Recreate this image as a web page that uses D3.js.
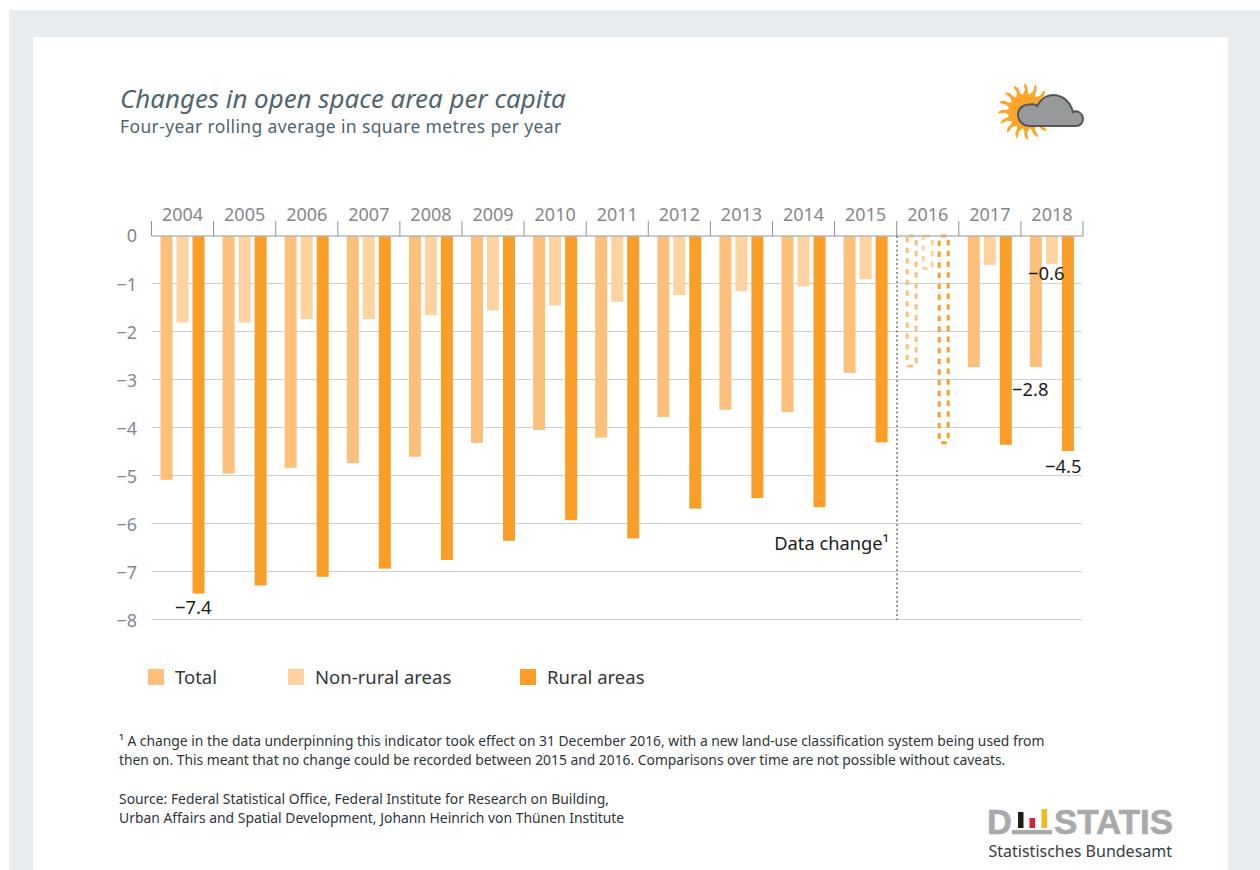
<!DOCTYPE html>
<html><head><meta charset="utf-8">
<script src="https://cdn.jsdelivr.net/npm/d3@7"></script>
<style>html,body{margin:0;padding:0;background:#fff;overflow:hidden}svg{display:block}text{font-family:"Noto Sans",sans-serif}</style>
</head><body><svg id="c" width="1260" height="870"></svg>
<script>
const years=["2004","2005","2006","2007","2008","2009","2010","2011","2012","2013","2014","2015","2016","2017","2018"];
const seriesKeys=["Total","Non-rural areas","Rural areas"];
const total=[-5.08,-4.95,-4.83,-4.73,-4.6,-4.31,-4.04,-4.2,-3.77,-3.62,-3.67,-2.85,-2.73,-2.73,-2.73];
const nonRural=[-1.8,-1.8,-1.73,-1.73,-1.65,-1.55,-1.45,-1.37,-1.23,-1.15,-1.05,-0.9,-0.7,-0.6,-0.58];
const rural=[-7.45,-7.28,-7.1,-6.93,-6.75,-6.35,-5.92,-6.3,-5.68,-5.46,-5.65,-4.3,-4.33,-4.35,-4.48];
const seriesVals=[total,nonRural,rural];
const colors=["#fdc07a","#fed3a0","#fb9e28"];
const dashedYear="2016";
const yTicks=[0,-1,-2,-3,-4,-5,-6,-7,-8];
const valueLabels=[["−7.4",175,614],["−0.6",1028,280],["−2.8",1012,396],["−4.5",1045,473]];

const svg=d3.select("#c");
svg.append("rect").attr("x",9).attr("y",10).attr("width",1251).attr("height",860).attr("fill","#e8ecef");
svg.append("rect").attr("x",33).attr("y",37).attr("width",1195).attr("height",840).attr("fill","#fff");

const x=d3.scaleBand().domain(years).range([151.5,1083]);
const inner=d3.scaleBand().domain(seriesKeys).range([9,53]).paddingInner(0.25).paddingOuter(0);
const y=d3.scaleLinear().domain([0,-8]).range([236,620]);
const gray="#85888c", gridc="#cfd0d2", titleC="#52646d";

// title
svg.append("text").attr("x",120).attr("y",108).attr("font-size",25.9).attr("font-style","italic").attr("fill",titleC).text("Changes in open space area per capita");
svg.append("text").attr("x",120).attr("y",133).attr("font-size",17.5).attr("letter-spacing",0.37).attr("fill",titleC).text("Four-year rolling average in square metres per year");

// grid
svg.append("g").selectAll("line").data(yTicks.slice(1)).join("line")
 .attr("x1",151.5).attr("x2",1082).attr("y1",d=>y(d)-.5).attr("y2",d=>y(d)-.5).attr("stroke",gridc).attr("stroke-width",1);

// y labels
svg.append("g").selectAll("text").data(yTicks).join("text")
 .attr("x",137).attr("y",d=>y(d)+(d===0?5.5:6.5)).attr("text-anchor","end").attr("font-size",18).attr("fill",gray)
 .text(d=>d===0?"0":"−"+Math.abs(d));

// bars
seriesKeys.forEach((k,si)=>{
 const g=svg.append("g");
 years.forEach((yr,i)=>{
  const v=seriesVals[si][i], px=x(yr)+inner(k), w=inner.bandwidth();
  if(yr===dashedYear){
   g.append("rect").attr("x",px+1.5).attr("y",y(0)).attr("width",w-3).attr("height",y(v)-y(0)-1).attr("fill","none")
    .attr("stroke",colors[si]).attr("stroke-width",3).attr("stroke-dasharray","5.5 5.2").attr("rx",1.5);
  } else {
   g.append("rect").attr("x",px).attr("y",y(0)).attr("width",w).attr("height",y(v)-y(0)).attr("fill",colors[si]);
  }
 });
});

// top axis
svg.append("line").attr("x1",151.5).attr("x2",1083).attr("y1",236).attr("y2",236).attr("stroke","#b5b7b9").attr("stroke-width",1.6);
svg.append("g").selectAll("line").data(years.concat(["end"])).join("line")
 .attr("x1",d=>d==="end"?1083:x(d)).attr("x2",d=>d==="end"?1083:x(d)).attr("y1",221).attr("y2",236).attr("stroke","#8f9295").attr("stroke-width",1);
svg.append("g").selectAll("text").data(years).join("text")
 .attr("x",d=>x(d)+x.bandwidth()/2).attr("y",221).attr("text-anchor","middle").attr("font-size",18).attr("fill",gray).text(d=>d);

// data change
svg.append("line").attr("x1",897).attr("x2",897).attr("y1",236).attr("y2",620).attr("stroke","#6b6e72").attr("stroke-width",1.4).attr("stroke-dasharray","2 2.5");
svg.append("text").attr("x",889).attr("y",550).attr("text-anchor","end").attr("font-size",18.3).attr("fill","#1d1d1b").text("Data change¹");

// value labels
svg.append("g").selectAll("text").data(valueLabels).join("text")
 .attr("x",d=>d[1]).attr("y",d=>d[2]).attr("font-size",18.4).attr("fill","#1d1d1b").text(d=>d[0]);

// legend
const legendX=[148,288,520];
seriesKeys.forEach((k,i)=>{
 svg.append("rect").attr("x",legendX[i]).attr("y",669).attr("width",16).attr("height",16).attr("fill",colors[i]);
 svg.append("text").attr("x",legendX[i]+27).attr("y",684).attr("font-size",18.5).attr("fill","#33383c").text(k);
});

// notes
const notes=[["¹ A change in the data underpinning this indicator took effect on 31 December 2016, with a new land-use classification system being used from",746,13.83],
["then on. This meant that no change could be recorded between 2015 and 2016. Comparisons over time are not possible without caveats.",765,13.83],
["Source: Federal Statistical Office, Federal Institute for Research on Building,",804,13.9],
["Urban Affairs and Spatial Development, Johann Heinrich von Thünen Institute",823,13.9]];
svg.append("g").selectAll("text").data(notes).join("text").attr("x",119).attr("y",d=>d[1]).attr("font-size",d=>d[2]).attr("fill","#2f3438").text(d=>d[0]);

// sun icon
const sun=svg.append("g").attr("transform","translate(1026,111.5)");
sun.append("circle").attr("r",17).attr("fill","#fba52a");
d3.range(16).forEach(i=>{
 sun.append("path").attr("transform",`rotate(${i*22.5})`)
  .attr("d","M-3.5,-15 C-3.5,-19 -1,-19.5 -1.2,-22 C-1.4,-24 -2.5,-25.5 -1.5,-28.5 C1,-26 2.2,-24 1.6,-21 C1.2,-18.5 3.5,-17.5 3.5,-15 Z").attr("fill","#fba52a");
});
// cloud icon
svg.append("path").attr("d","M1030,126 C1023,126 1018,121 1018,114.5 C1018,108 1024,104 1030,104.5 C1034,104 1036,105 1037,106 C1041,99 1047,95 1053,95 C1062,95 1070,101 1073,112 C1077,110 1083,113 1083,119 C1083,123 1080,126 1076,126 Z")
 .attr("fill","#97999b").attr("stroke","#53575a").attr("stroke-width",2);

// logo
const logo=svg.append("g");
const logoFont='font-family:"Liberation Sans"';
logo.append("text").attr("x",987).attr("y",834).attr("font-size",34.5).attr("font-weight",700).attr("fill","#a9aaac").attr("stroke","#a9aaac").attr("stroke-width",0.6).attr("style",logoFont).text("D");
logo.append("text").attr("x",1054).attr("y",834).attr("font-size",34.5).attr("font-weight",700).attr("fill","#a9aaac").attr("stroke","#a9aaac").attr("stroke-width",0.6).attr("style",logoFont).attr("textLength",119).attr("lengthAdjust","spacingAndGlyphs").text("STATIS");
[[1018,"#1d1d1b",16],[1029.5,"#d8213a",10],[1041.5,"#f5b91a",19]].forEach(b=>{
 logo.append("rect").attr("x",b[0]).attr("y",828-b[2]).attr("width",5.5).attr("height",b[2]).attr("fill",b[1]);
});
logo.append("rect").attr("x",1012).attr("y",830).attr("width",40).attr("height",4.3).attr("fill","#a9aaac");
logo.append("text").attr("x",988.5).attr("y",857).attr("font-size",16).attr("fill","#3a3d40").text("Statistisches Bundesamt");
</script></body></html>
